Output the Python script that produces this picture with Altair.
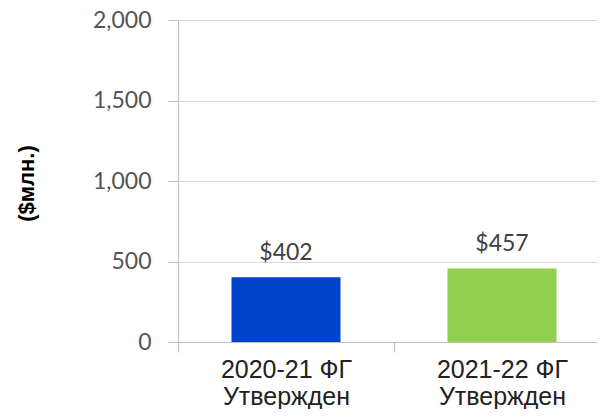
import altair as alt
import pandas as pd

categories = ["2020-21 ФГ\nУтвержден", "2021-22 ФГ\nУтвержден"]
values = [402, 457]
labels = ["$402", "$457"]
colors = ["#0043CB", "#92D050"]
y_ticks = [0, 500, 1000, 1500, 2000]

df = pd.DataFrame({"cat": categories, "val": values, "lab": labels, "color": colors})

x_enc = alt.X(
    "cat:N",
    sort=categories,
    title=None,
    scale=alt.Scale(range=[0, 432], paddingInner=0, paddingOuter=0),
    axis=alt.Axis(
        labelExpr="datum.value ? split(datum.value, '\\n') : ''",
        labelAngle=0,
        labelFont="Liberation Sans",
        labelFontSize=25,
        labelColor="#222222",
        labelLineHeight=27,
        labelPadding=5,
        tickBand="extent",
        tickSize=10,
        tickColor="#bfbfbf",
        domainColor="#bfbfbf",
        grid=False,
    ),
)

y_enc = alt.Y(
    "val:Q",
    scale=alt.Scale(domain=[0, 2000], nice=False),
    title="($млн.)",
    axis=alt.Axis(
        values=y_ticks,
        format=",d",
        labelFont="Lato",
        labelFontSize=23,
        labelColor="#555555",
        labelPadding=17,
        tickSize=10,
        tickColor="#bfbfbf",
        domainColor="#bfbfbf",
        gridColor="#d9d9d9",
        titleFont="Liberation Sans",
        titleFontSize=22,
        titleFontWeight="bold",
        titleColor="#000000",
        titleAngle=270,
        titleX=-152,
        titleY=163,
        titleAlign="center",
        titleBaseline="middle",
    ),
)

bars = alt.Chart(df).mark_bar(size=109).encode(
    x=x_enc,
    y=y_enc,
    color=alt.Color("color:N", scale=None),
)

text = alt.Chart(df).mark_text(
    dy=-24, font="Lato", fontSize=23, color="#404040", baseline="middle"
).encode(
    x=alt.X("cat:N", sort=categories),
    y=alt.Y("val:Q"),
    text="lab:N",
)

chart = (
    alt.layer(bars, text)
    .properties(
        width=419,
        height=322,
        autosize=alt.AutoSizeParams(type="none"),
        padding={"left": 170, "top": 12, "right": 0, "bottom": 67},
    )
    .configure_view(stroke=None)
)

chart.save("out.html", embed_options={"renderer": "svg", "actions": False})
